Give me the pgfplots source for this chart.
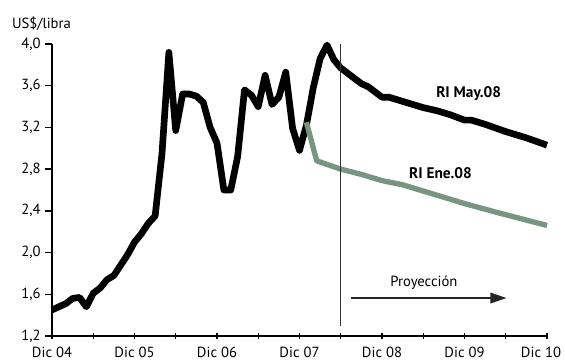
\documentclass[border=0pt]{standalone}
\usepackage{pgfplots}
\pgfplotsset{compat=1.18}
\usepackage{fontspec}
\setmainfont{PT Sans}
\usetikzlibrary{arrows.meta}
\definecolor{ene}{RGB}{122,148,130}
\begin{document}
\begin{tikzpicture}
\begin{axis}[
  at={(39pt,19.5pt)}, anchor=south west,
  scale only axis,
  width=371.25pt, height=219pt,
  xmin=0, xmax=72, ymin=1.2, ymax=4.0,
  axis x line*=bottom, axis y line*=left,
  axis line style={line width=1.6pt, -},
  xtick={0,12,24,36,48,60,72},
  xticklabels={Dic 04,Dic 05,Dic 06,Dic 07,Dic 08,Dic 09,\hspace*{-9pt}Dic 10},
  minor xtick={6,18,30,42,54,66},
  ytick={1.2,1.6,2.0,2.4,2.8,3.2,3.6,4.0},
  tick style={black, line width=1pt},
  xtick align=center, major tick length=5pt, minor tick length=5pt,
  ytick align=outside,
  y tick label style={/pgf/number format/.cd, use comma, fixed, fixed zerofill, precision=1, assume math mode=true},
  tick label style={font=\fontsize{11}{13}\selectfont},
  x tick label style={yshift=-2.5pt},
  clip=false,
]
\addplot[black, line width=5pt, line join=round] coordinates {
(0,1.45)(1,1.48)(2,1.51)(3,1.56)(4,1.57)(5,1.48)(6,1.61)(7,1.66)(8,1.74)(9,1.78)
(10,1.88)(11,1.98)(12,2.10)(13,2.18)(14,2.28)(15,2.35)(16,2.95)(17,3.92)(18,3.17)(19,3.52)
(20,3.52)(21,3.50)(22,3.44)(23,3.20)(24,3.05)(25,2.60)(26,2.60)(27,2.92)(28,3.56)(29,3.51)
(30,3.40)(31,3.70)(32,3.42)(33,3.49)(34,3.73)(35,3.19)(36,2.98)(37,3.22)(38,3.58)(39,3.86)
(40,3.99)(41,3.85)(42,3.77)(43,3.72)(44,3.67)(45,3.62)(46,3.59)(47,3.54)(48,3.49)(49,3.49)
(50,3.47)(52,3.43)(54,3.39)(56,3.36)(58,3.32)(60,3.27)(61,3.27)(63,3.23)(66,3.16)(69,3.10)(72,3.03)
};
\addplot[ene, line width=4pt, line join=round] coordinates {
(37,3.25)(38.5,2.88)(42,2.80)(45,2.75)(48,2.69)(51,2.65)(55,2.57)(60,2.47)(65,2.38)(72,2.26)
};
\draw[black!80, line width=0.9pt] (axis cs:42,4.0) -- (axis cs:42,1.3);
\draw[black!85, line width=1.1pt, -{Triangle[length=12pt,width=8pt]}] (axis cs:43.5,1.564) -- (axis cs:66.1,1.564);
\node[font=\fontsize{11}{13}\selectfont] at (axis cs:54.1,1.71) {Proyección};
\node[font=\bfseries\fontsize{11.5}{13}\selectfont] at (axis cs:60.6,3.52) {RI May.08};
\node[font=\bfseries\fontsize{11.5}{13}\selectfont] at (axis cs:56.5,2.76) {RI Ene.08};
\end{axis}
\node[font=\fontsize{11}{13}\selectfont] at (31.1pt,253.9pt) {US\$/libra};
\pgfresetboundingbox
\useasboundingbox (0pt,0pt) rectangle (423.75pt,271.5pt);
\end{tikzpicture}
\end{document}
